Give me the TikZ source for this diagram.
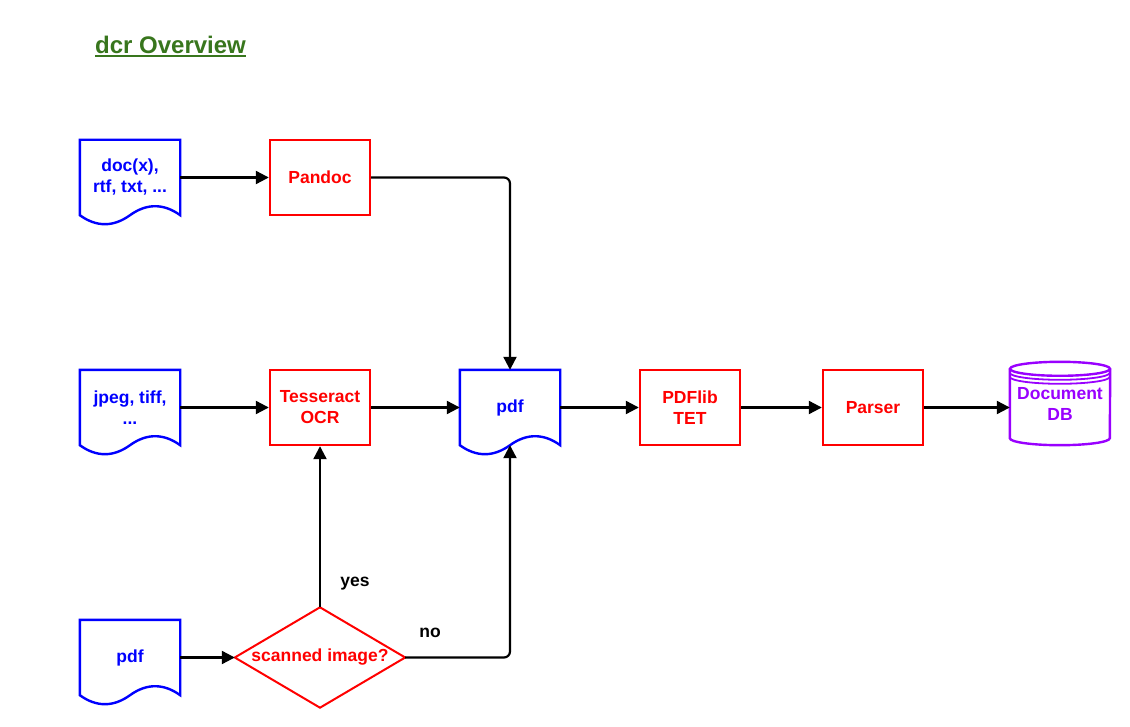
\documentclass[tikz,border=0pt]{standalone}
\usepackage{fontspec}
\setmainfont{Liberation Sans}
\usetikzlibrary{arrows.meta,calc}
\definecolor{ttlgreen}{HTML}{38761D}
\definecolor{dbpurple}{HTML}{9900FF}
\newcommand\docoutline[1]{\draw[docline] (#1.north west) -- (#1.north east) -- (#1.south east)
  .. controls ($(#1.south east)+(-16.67,-12)$) and ($(#1.south)+(16.67,-12)$) .. (#1.south)
  .. controls ($(#1.south)+(-16.67,12)$) and ($(#1.south west)+(16.67,12)$) .. (#1.south west) -- cycle;}
\begin{document}
\begin{tikzpicture}[x=1pt,y=-1pt,
  every node/.style={font=\fontsize{17.5}{21}\selectfont\bfseries, inner sep=0pt, align=center},
  docnode/.style={minimum width=100pt, minimum height=75pt, text=blue},
  procbox/.style={draw=red, line width=2.4pt, minimum width=100pt, minimum height=75pt, text=red},
  docline/.style={draw=blue, line width=2.4pt},
  conn/.style={line width=2.2pt, -{Triangle[length=13pt,width=13pt]}},
  lbl/.style={text=black}
]
\fill[white] (0,0) rectangle (1130,727);
\useasboundingbox (0,0) rectangle (1130,727);

% title
\node[anchor=base west, text=ttlgreen, font=\fontsize{24}{28}\selectfont\bfseries] (title) at (95,54) {dcr Overview};
\draw[ttlgreen, line width=2pt] ($(title.base west)+(0,2.5)$) -- ($(title.base east)+(0,2.5)$);

% documents
\node[docnode] (d1) at (130,177.5) {doc(x),\\rtf, txt, ...};
\node[docnode] (d2) at (130,407.5) {jpeg, tiff,\\...};
\node[docnode] (pdf) at (510,407.5) {pdf};
\node[docnode] (d3) at (130,657.5) {pdf};
\docoutline{d1}
\docoutline{d2}
\docoutline{pdf}
\docoutline{d3}

% process boxes
\node[procbox] (pandoc) at (320,177.5) {Pandoc};
\node[procbox] (tess) at (320,407.5) {Tesseract\\OCR};
\node[procbox] (tet) at (690,407.5) {PDFlib\\TET};
\node[procbox] (parser) at (873,407.5) {Parser};

% database
\node[minimum width=100pt, minimum height=83pt, text=dbpurple] (db) at (1060,403.5) {Document\\DB};
\draw[dbpurple, line width=2.4pt] ($(db.north)+(0,7)$) ellipse [x radius=50pt, y radius=7pt];
\draw[dbpurple, line width=1.8pt] ($(db.north west)+(0,11)$) arc[start angle=180,end angle=360,x radius=50pt,y radius=7pt];
\draw[dbpurple, line width=1.8pt] ($(db.north west)+(0,15)$) arc[start angle=180,end angle=360,x radius=50pt,y radius=7pt];
\draw[dbpurple, line width=2.4pt] ($(db.north west)+(0,7)$) -- ($(db.south west)+(0,-7)$) arc[start angle=180,end angle=360,x radius=50pt,y radius=7pt] -- ($(db.north east)+(0,7)$);

% decision
\node[minimum width=170pt, minimum height=100pt, text=red] (dia) at (320,657.5) {scanned image?};
\draw[red, line width=2pt] (dia.north) -- (dia.east) -- (dia.south) -- (dia.west) -- cycle;

% connectors
\draw[conn] (d1.east) -- (pandoc.west);
\draw[conn, rounded corners=6pt] (pandoc.east) -| (pdf.north);
\draw[conn] (d2.east) -- (tess.west);
\draw[conn] (tess.east) -- (pdf.west);
\draw[conn] (pdf.east) -- (tet.west);
\draw[conn] (tet.east) -- (parser.west);
\draw[conn] (parser.east) -- (parser.east -| db.west);
\draw[conn] (d3.east) -- (dia.west);
\draw[conn] (dia.north) -- (tess.south);
\draw[conn, rounded corners=6pt] (dia.east) -| (pdf.south);

% labels
\node[lbl] (yes) at (355,584) {yes};
\node[lbl] (no) at (430,633) {no};
\end{tikzpicture}
\end{document}
